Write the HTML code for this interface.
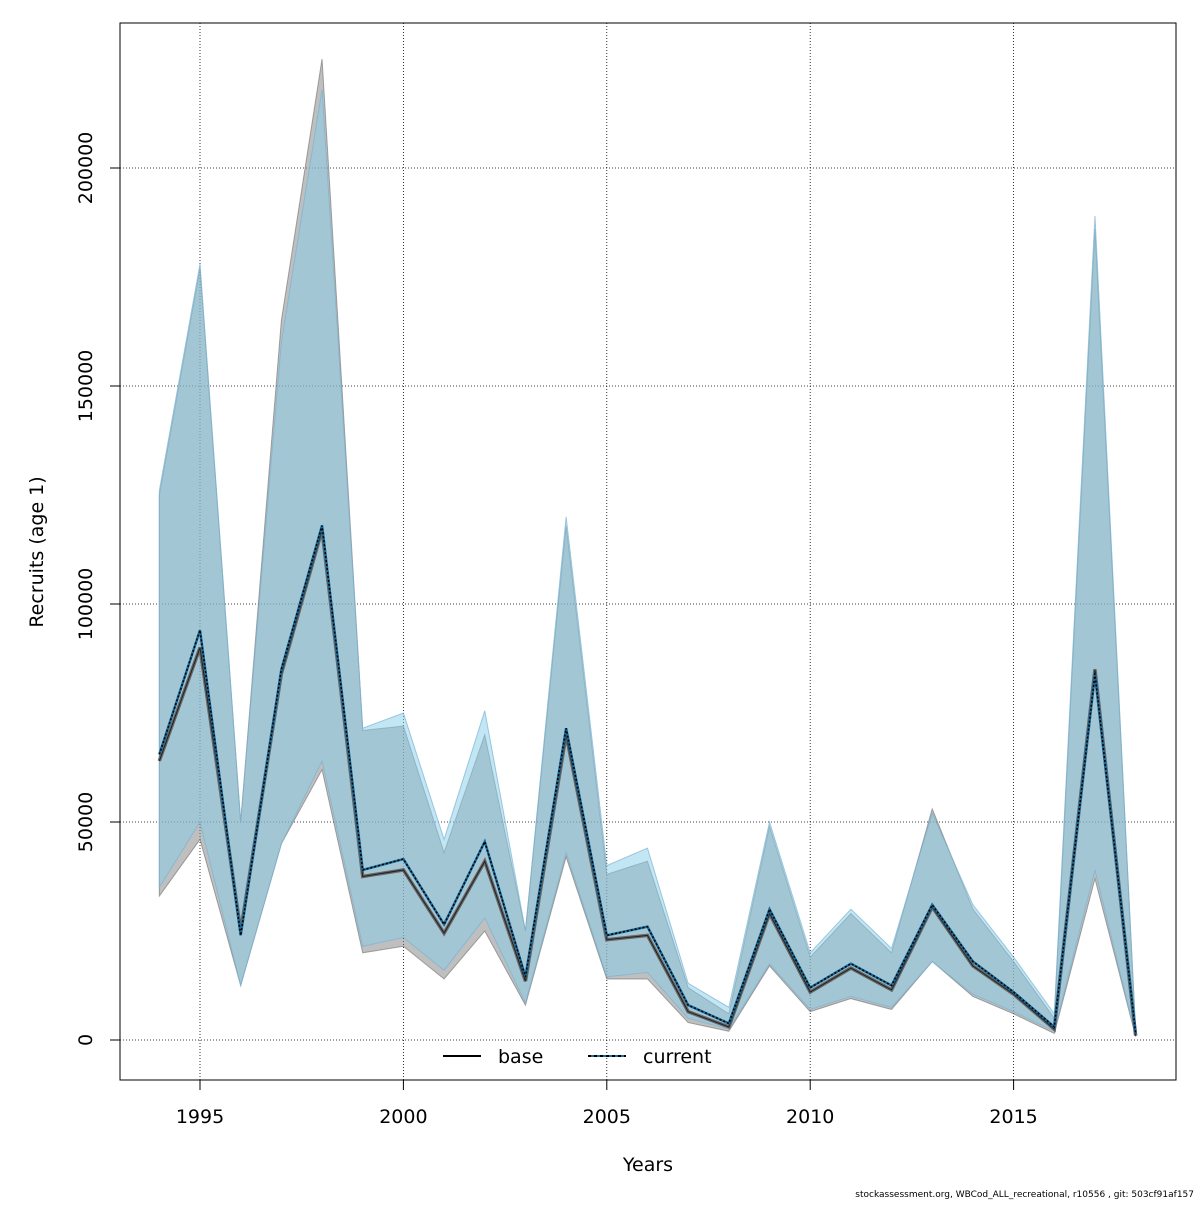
<!DOCTYPE html>
<html><head><meta charset="utf-8"><style>
body{margin:0;background:#fff}
svg text{font-family:"DejaVu Sans","Liberation Sans",sans-serif}
</style></head><body>
<svg id="chart" width="1200" height="1200" xmlns="http://www.w3.org/2000/svg">
<rect width="1200" height="1200" fill="#fff"/>
<g id="grid"></g>
<g id="bands"></g>
<g id="lines"></g>
<rect x="120" y="23" width="1056" height="1057" fill="none" stroke="#000"/>
<g id="axes"></g>
<text x="648" y="1171" font-size="19" text-anchor="middle">Years</text>
<text transform="translate(43,552) rotate(-90)" font-size="19" text-anchor="middle">Recruits (age 1)</text>
<g>
<line x1="443" y1="1056" x2="481" y2="1056" stroke="#000" stroke-width="2"/>
<text x="498" y="1063" font-size="19">base</text>
<line x1="588" y1="1056" x2="626" y2="1056" stroke="#1a6a9a" stroke-width="2"/>
<line x1="588" y1="1056" x2="626" y2="1056" stroke="#000" stroke-width="2" stroke-dasharray="3,3"/>
<text x="643" y="1063" font-size="19">current</text>
</g>
<text x="1194" y="1197" font-size="9" text-anchor="end">stockassessment.org, WBCod_ALL_recreational, r10556 , git: 503cf91af157</text>
</svg>
<script>
const years=[1994,1995,1996,1997,1998,1999,2000,2001,2002,2003,2004,2005,2006,2007,2008,2009,2010,2011,2012,2013,2014,2015,2016,2017,2018];
const baseVals=[64000,90000,25000,84000,117000,37500,39000,24500,41000,13500,70000,23000,24000,6500,3000,29000,11000,16500,11500,30500,17000,10500,2500,85000,1000];
const currentVals=[65500,94000,24000,85000,118000,39000,41500,26500,45500,14500,71500,24000,26000,8000,3800,30000,12000,17500,12500,31000,18000,11000,3000,84000,1500];
const baseUpper=[125000,177000,50000,165000,225000,71000,72000,43000,70000,25000,118000,38000,41000,12000,6000,49000,19000,29000,20000,53000,30000,18000,5000,186000,2000];
const baseLower=[33000,46000,12500,45000,62000,20000,21500,14000,25000,8000,42000,14000,14000,4000,2000,17000,6500,9500,7000,18000,10000,6000,1500,37000,800];
const curUpper=[126000,178000,50000,160000,218000,71500,75000,46000,75500,25000,120000,40000,44000,13000,7500,50000,20000,30000,21000,52000,31000,19000,6000,189000,2000];
const curLower=[35000,50000,12500,45000,64000,21500,23500,16000,28000,8500,43000,14500,15500,5000,2500,17500,7000,10000,7500,18000,10500,6500,2000,39000,1000];
const xTicks=[1995,2000,2005,2010,2015];
const yTicks=[0,50000,100000,150000,200000];

const NS="http://www.w3.org/2000/svg";
const X=y=>200+(y-1995)*40.68;
const Y=v=>1040-v*872/200000;
function mk(tag,attrs,parent){const e=document.createElementNS(NS,tag);for(const k in attrs)e.setAttribute(k,attrs[k]);parent.appendChild(e);return e;}
const grid=document.getElementById('grid'),axes=document.getElementById('axes'),bands=document.getElementById('bands'),lines=document.getElementById('lines');
xTicks.forEach(t=>{
  const l=mk('line',{x1:X(t),x2:X(t),y1:23,y2:1080,stroke:'#000','stroke-width':0.8,'stroke-dasharray':'1,2'},grid);
  
  
  const tk=mk('line',{x1:X(t),x2:X(t),y1:1080,y2:1090,stroke:'#000'},axes);
  
  
  const tx=mk('text',{x:X(t),y:1123,'font-size':19,'text-anchor':'middle'},axes);tx.textContent=t;
  
  
});
yTicks.forEach(t=>{
  const l=mk('line',{x1:120,x2:1176,y1:Y(t),y2:Y(t),stroke:'#000','stroke-width':0.8,'stroke-dasharray':'1,2'},grid);
  
  
  const tk=mk('line',{x1:110,x2:120,y1:Y(t),y2:Y(t),stroke:'#000'},axes);
  
  
  const tx=mk('text',{transform:`translate(92,${Y(t)}) rotate(-90)`,'font-size':19,'text-anchor':'middle'},axes);tx.textContent=t;
  
  
});
function band(up,lo,fill,stroke,name){
  const pts=years.map((y,i)=>X(y)+','+Y(up[i])).concat(years.map((y,i)=>X(y)+','+Y(lo[i])).reverse());
  const p=mk('polygon',{points:pts.join(' '),fill:fill,stroke:stroke,'stroke-width':1},bands);
  
  
}
band(baseUpper,baseLower,'rgba(128,128,128,0.5)','rgba(110,110,110,0.6)','base-ci-band');
band(curUpper,curLower,'rgba(135,206,235,0.5)','rgba(120,180,210,0.7)','current-ci-band');
function line(vals,attrs,name){
  const d=years.map((y,i)=>X(y)+','+Y(vals[i])).join(' ');
  const p=mk('polyline',Object.assign({points:d,fill:'none'},attrs),lines);
  
  
}
line(baseVals,{stroke:'#666','stroke-width':3.5},'base-line-shadow');
line(baseVals,{stroke:'#222','stroke-width':1},'base-line');
line(currentVals,{stroke:'#1a6a9a','stroke-width':2.5},'current-line-shadow');
line(currentVals,{stroke:'#000','stroke-width':1.5,'stroke-dasharray':'2,2'},'current-line');
</script>
</body></html>
